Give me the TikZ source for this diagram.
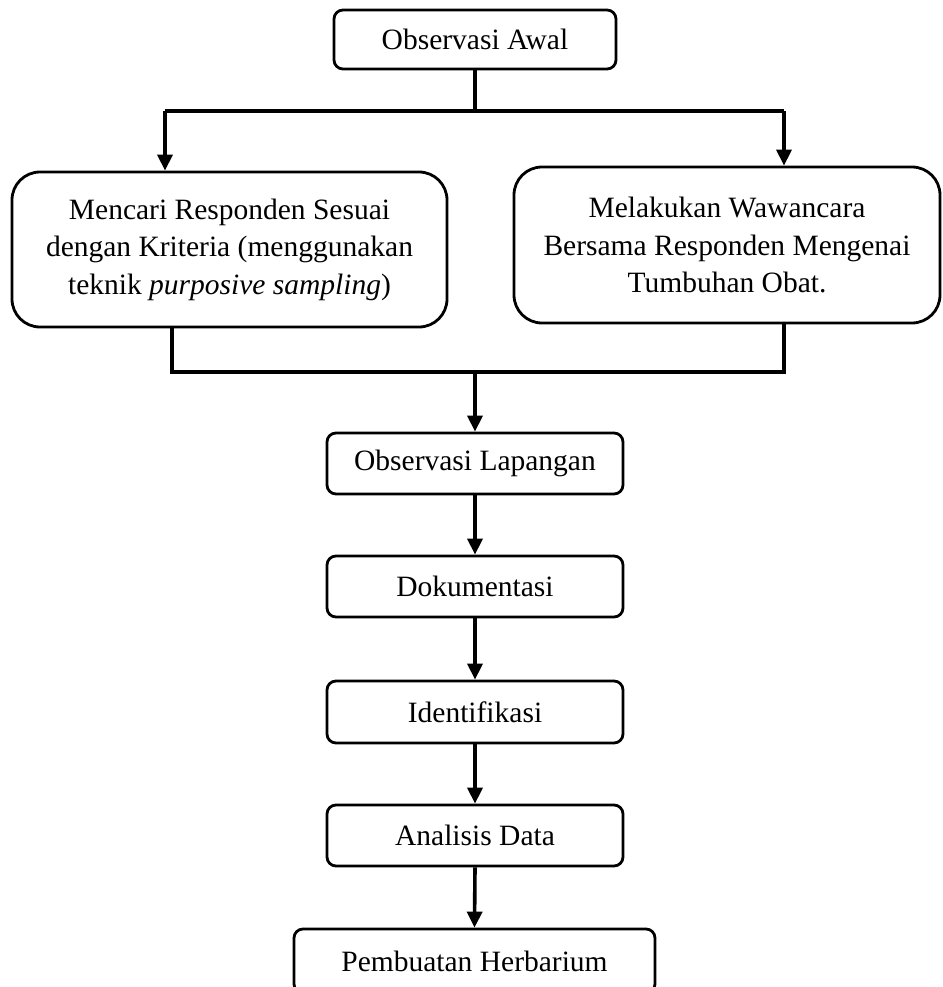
\documentclass[tikz,border=0pt]{standalone}
\usepackage{fontspec}
\setmainfont{Liberation Serif}
\usetikzlibrary{arrows.meta}
\begin{document}
\begin{tikzpicture}[x=1pt,y=-1pt,
  box/.style={draw, line width=2.8pt, rounded corners=9pt, inner sep=0pt, align=center,
    font=\fontsize{29.5}{37.5}\selectfont},
  bigbox/.style={box, rounded corners=28pt},
  conn/.style={line width=3.6pt},
  arr/.style={conn, -{Triangle[length=16pt,width=15pt]}}]
\useasboundingbox (0,0) rectangle (942,987);
\clip (0,0) rectangle (942,987);
\node[box, minimum width=282pt, minimum height=59pt] (awal) at (475,39.5) {Observasi Awal};
\node[bigbox, minimum width=435pt, minimum height=155pt] (mencari) at (229.5,249.5)
  {Mencari Responden Sesuai\\dengan Kriteria (menggunakan\\teknik \textit{purposive sampling})};
\node[bigbox, minimum width=426pt, minimum height=156pt] (wawancara) at (727,245)
  {Melakukan Wawancara\\Bersama Responden Mengenai\\Tumbuhan Obat.};
\node[box, minimum width=296pt, minimum height=61pt] (lapangan) at (475,463.5) {Observasi Lapangan};
\node[box, minimum width=296pt, minimum height=61pt] (dok) at (475,586.5) {Dokumentasi};
\node[box, minimum width=296pt, minimum height=62pt] (ident) at (475,712) {Identifikasi};
\node[box, minimum width=296pt, minimum height=61pt] (anal) at (475,835.5) {Analisis Data};
\node[box, minimum width=361pt, minimum height=64pt] (herb) at (474.5,961) {Pembuatan Herbarium};
\coordinate (j1) at (475,111);
\coordinate (jl) at (165,111);
\coordinate (jr) at (784,111);
\coordinate (bl) at (172,372);
\coordinate (br) at (784,372);
\coordinate (j2) at (475,372);
\draw[conn] (awal.south) -- (j1);
\draw[conn] (jl) -- (jr);
\draw[arr] (jl) -- (jl |- mencari.north);
\draw[arr] (jr) -- (jr |- wawancara.north);
\draw[conn] (mencari.south -| bl) -- (bl) -- (br) -- (br |- wawancara.south);
\draw[arr] (j2) -- (lapangan.north);
\draw[arr] (lapangan.south) -- (dok.north);
\draw[arr] (dok.south) -- (ident.north);
\draw[arr] (ident.south) -- (anal.north);
\draw[arr] (anal.south) -- (herb.north);
\end{tikzpicture}
\end{document}
